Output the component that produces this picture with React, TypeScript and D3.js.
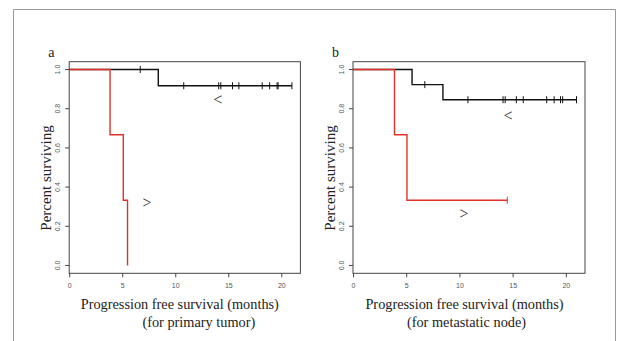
import { useEffect, useRef } from 'react';
import * as d3 from 'd3';

// Kaplan-Meier step data (months / proportion surviving)
const xTicks = [0, 5, 10, 15, 20];
const yTicks = [0.0, 0.2, 0.4, 0.6, 0.8, 1.0];

// panel a: primary tumor
const primaryLowTimes = [0, 8.4, 21.0];
const primaryLowSurv = [1.0, 0.917, 0.917];
const primaryLowCensor = [6.7, 10.8, 14.1, 14.3, 15.4, 16.0, 18.2, 18.9, 19.6, 19.7, 21.0];
const primaryHighTimes = [0, 3.85, 5.1, 5.5];
const primaryHighSurv = [1.0, 0.667, 0.333, 0.0];
const primaryHighCensor: number[] = [];

// panel b: metastatic node
const nodeLowTimes = [0, 5.55, 8.45, 21.0];
const nodeLowSurv = [1.0, 0.923, 0.846, 0.846];
const nodeLowCensor = [6.75, 10.8, 14.1, 14.3, 15.35, 16.0, 18.2, 18.9, 19.5, 19.7, 21.0];
const nodeHighTimes = [0, 3.9, 5.07, 14.5];
const nodeHighSurv = [1.0, 0.667, 0.333, 0.333];
const nodeHighCensor = [14.5];

interface Curve {
  times: number[];
  surv: number[];
  censor: number[];
  color: string;
}

interface Marker {
  t: number;
  s: number;
  text: string;
}

interface PanelProps {
  letter: string;
  left: number;
  right: number;
  curves: Curve[];
  markers: Marker[];
  subtitle: string;
  titleShift: number;
  subShift: number;
}

const top = 61.7;
const bottom = 273.3;
const serif = '"Times New Roman", "Liberation Serif", serif';
const sans = 'Arial, "Liberation Sans", sans-serif';

function survAt(c: Curve, t: number) {
  let s = c.surv[0];
  c.times.forEach((ti, i) => {
    if (ti <= t) s = c.surv[i];
  });
  return s;
}

function Panel({ letter, left, right, curves, markers, subtitle, titleShift, subShift }: PanelProps) {
  const ref = useRef<SVGGElement>(null);

  useEffect(() => {
    if (!ref.current) return;
    const g = d3.select(ref.current);
    g.selectAll('*').remove();

    const x = d3.scaleLinear().domain([0, 21.8]).range([left, right]);
    const y = d3.scaleLinear().domain([-0.04, 1.04]).range([bottom, top]);

    // plot box
    g.append('rect')
      .attr('x', left)
      .attr('y', top)
      .attr('width', right - left)
      .attr('height', bottom - top)
      .attr('fill', 'none')
      .attr('stroke', '#444')
      .attr('stroke-width', 1);

    // x axis
    const xAxis = g.append('g')
      .attr('transform', `translate(0,${bottom})`)
      .call(d3.axisBottom(x).tickValues(xTicks).tickSize(4).tickPadding(6).tickFormat(d3.format('d')));
    xAxis.select('.domain').remove();
    xAxis.attr('font-family', sans).attr('font-size', 7);
    xAxis.selectAll('line').attr('stroke', '#444');
    xAxis.selectAll('text').attr('fill', '#555');

    // y axis, labels turned like R's default
    const yAxis = g.append('g')
      .attr('transform', `translate(${left},0)`)
      .call(d3.axisLeft(y).tickValues(yTicks).tickSize(4).tickFormat(d3.format('.1f')));
    yAxis.select('.domain').remove();
    yAxis.attr('font-family', sans).attr('font-size', 7);
    yAxis.selectAll('.tick').attr('transform', null);
    yAxis.selectAll('.tick line')
      .attr('stroke', '#444')
      .attr('y1', d => y(d as number))
      .attr('y2', d => y(d as number));
    yAxis.selectAll('text')
      .attr('x', null)
      .attr('dy', null)
      .attr('y', 0)
      .attr('text-anchor', 'middle')
      .attr('dominant-baseline', 'central')
      .attr('transform', d => `translate(-12,${y(d as number)}) rotate(-90)`)
      .attr('fill', '#555');

    // KM curves
    const line = d3.line<[number, number]>()
      .x(d => x(d[0]))
      .y(d => y(d[1]))
      .curve(d3.curveStepAfter);

    curves.forEach(c => {
      const pts = c.times.map((t, i) => [t, c.surv[i]] as [number, number]);
      g.append('path')
        .attr('d', line(pts))
        .attr('fill', 'none')
        .attr('stroke', c.color)
        .attr('stroke-width', 1.4);

      g.selectAll(null)
        .data(c.censor)
        .enter()
        .append('line')
        .attr('x1', d => x(d))
        .attr('x2', d => x(d))
        .attr('y1', d => y(survAt(c, d)) - 3.5)
        .attr('y2', d => y(survAt(c, d)) + 3.5)
        .attr('stroke', c.color)
        .attr('stroke-width', 1);
    });

    // group markers
    g.selectAll(null)
      .data(markers)
      .enter()
      .append('text')
      .attr('x', d => x(d.t))
      .attr('y', d => y(d.s))
      .attr('text-anchor', 'middle')
      .attr('dominant-baseline', 'central')
      .attr('font-family', serif)
      .attr('font-size', 16)
      .attr('fill', '#333')
      .text(d => d.text);

    // titles
    g.append('text')
      .attr('x', left - 21)
      .attr('y', 57)
      .attr('font-family', serif)
      .attr('font-size', 14)
      .attr('fill', '#222')
      .text(letter);

    g.append('text')
      .attr('transform', `translate(${left - 18},178) rotate(-90)`)
      .attr('text-anchor', 'middle')
      .attr('font-family', serif)
      .attr('font-size', 15)
      .attr('fill', '#222')
      .text('Percent surviving');

    const cx = (left + right) / 2;
    g.append('text')
      .attr('x', cx + titleShift)
      .attr('y', 309)
      .attr('text-anchor', 'middle')
      .attr('font-family', serif)
      .attr('font-size', 14.3)
      .attr('fill', '#222')
      .text('Progression free survival (months)');

    g.append('text')
      .attr('x', cx + subShift)
      .attr('y', 327)
      .attr('text-anchor', 'middle')
      .attr('font-family', serif)
      .attr('font-size', 14.3)
      .attr('fill', '#222')
      .text(subtitle);
  }, [letter, left, right, curves, markers, subtitle, titleShift, subShift]);

  return <g ref={ref} />;
}

const panelA: Curve[] = [
  { times: primaryLowTimes, surv: primaryLowSurv, censor: primaryLowCensor, color: '#111' },
  { times: primaryHighTimes, surv: primaryHighSurv, censor: primaryHighCensor, color: '#e2312b' },
];
const panelB: Curve[] = [
  { times: nodeLowTimes, surv: nodeLowSurv, censor: nodeLowCensor, color: '#111' },
  { times: nodeHighTimes, surv: nodeHighSurv, censor: nodeHighCensor, color: '#e2312b' },
];
const markersA: Marker[] = [
  { t: 14.0, s: 0.845, text: '<' },
  { t: 7.34, s: 0.319, text: '>' },
];
const markersB: Marker[] = [
  { t: 14.57, s: 0.763, text: '<' },
  { t: 10.43, s: 0.266, text: '>' },
];

export default function App() {
  return (
    <svg
      width={618}
      height={341}
      style={{ position: 'absolute', left: 0, top: 0, background: '#fff' }}
    >
      <rect x={0} y={0} width={618} height={341} fill="#fff" />
      <path d="M13.5,345 V9.5 H615.5 V345" fill="none" stroke="#999" strokeWidth={1} />
      <Panel letter="a" left={69.2} right={300.4} curves={panelA} markers={markersA}
        subtitle="(for primary tumor)" titleShift={-5} subShift={14} />
      <Panel letter="b" left={353} right={585} curves={panelB} markers={markersB}
        subtitle="(for metastatic node)" titleShift={-4.5} subShift={-2.5} />
    </svg>
  );
}
